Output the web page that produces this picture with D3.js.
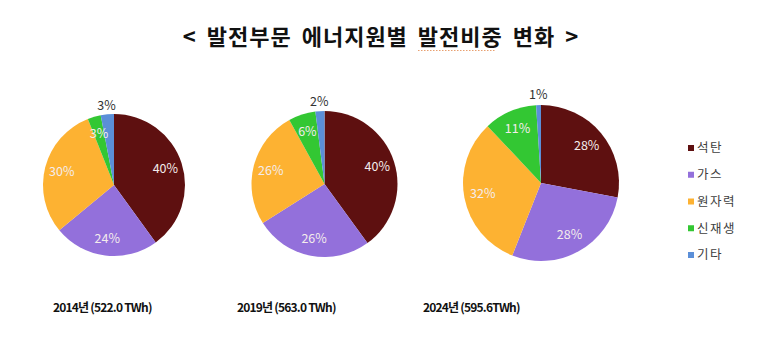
<!DOCTYPE html>
<html><head><meta charset="utf-8">
<script src="https://cdn.jsdelivr.net/npm/d3@7"></script>
<style>
html,body{margin:0;padding:0;background:#fff;}
svg{display:block;font-family:"Noto Sans CJK KR","Noto Sans",sans-serif;}
</style></head>
<body>
<svg id="chart" width="780" height="349"></svg>
<script>
const categories = ["석탄", "가스", "원자력", "신재생", "기타"];
const colors = ["#5E1010", "#9370DB", "#FDB232", "#33C733", "#5B8FD8"];
const years = ["2014년 (522.0 TWh)", "2019년 (563.0 TWh)", "2024년 (595.6TWh)"];
const share2014 = [40, 24, 30, 3, 3];
const share2019 = [40, 26, 26, 6, 2];
const share2024 = [28, 28, 32, 11, 1];
const titleText = "< 발전부문 에너지원별 발전비중 변화 >";

const shares = [share2014, share2019, share2024];
const pieLayout = [
  {cx: 114, cy: 185, r: 71, labelX: 53},
  {cx: 324.5, cy: 184, r: 73, labelX: 237},
  {cx: 541, cy: 183, r: 78, labelX: 423}
];

const svg = d3.select("#chart");

// title
svg.append("text")
  .attr("x", 381).attr("y", 45)
  .attr("text-anchor", "middle")
  .attr("font-size", 22).attr("font-weight", "bold")
  .attr("letter-spacing", 1).attr("word-spacing", 4)
  .attr("fill", "#111")
  .text(titleText);
// spell-check squiggle under 발전비중
svg.append("line")
  .attr("x1", 418).attr("x2", 496).attr("y1", 50.5).attr("y2", 50.5)
  .attr("stroke", "#e8a070").attr("stroke-width", 1)
  .attr("stroke-dasharray", "1.5,1.5");

const pie = d3.pie().sort(null).value(d => d);

shares.forEach((vals, i) => {
  const L = pieLayout[i];
  const g = svg.append("g").attr("transform", `translate(${L.cx},${L.cy})`);
  const arcs = pie(vals);
  const arc = d3.arc().innerRadius(0).outerRadius(L.r);
  g.selectAll("path").data(arcs).enter().append("path")
    .attr("d", arc)
    .attr("fill", (d, j) => colors[j]);
  const inArc = d3.arc().innerRadius(L.r * 0.76).outerRadius(L.r * 0.76);
  const outArc = d3.arc().innerRadius(L.r * 1.13).outerRadius(L.r * 1.13);
  g.selectAll("text").data(arcs).enter().append("text")
    .attr("transform", (d, j) => {
      const c = (j === 4 ? outArc : inArc).centroid(d);
      return `translate(${c[0]},${c[1]})`;
    })
    .attr("text-anchor", "middle")
    .attr("dy", "0.35em")
    .attr("font-size", 12.5)
    .attr("fill", (d, j) => j === 4 ? "#333" : "#f4ecec")
    .text(d => d.data + "%");

  svg.append("text")
    .attr("x", L.labelX).attr("y", 312)
    .attr("font-size", 12).attr("font-weight", "bold")
    .attr("letter-spacing", -0.8)
    .attr("fill", "#111")
    .text(years[i]);
});

// legend
const legendY = d3.scalePoint().domain(categories).range([148, 255]);
const lg = svg.append("g");
categories.forEach((c, j) => {
  lg.append("rect")
    .attr("x", 688).attr("y", legendY(c) - 3)
    .attr("width", 6).attr("height", 6)
    .attr("fill", colors[j]);
  lg.append("text")
    .attr("x", 697).attr("y", legendY(c))
    .attr("dy", "0.35em")
    .attr("font-size", 12.5)
    .attr("letter-spacing", 1.5)
    .attr("fill", "#404040")
    .text(c);
});
</script>
</body></html>
